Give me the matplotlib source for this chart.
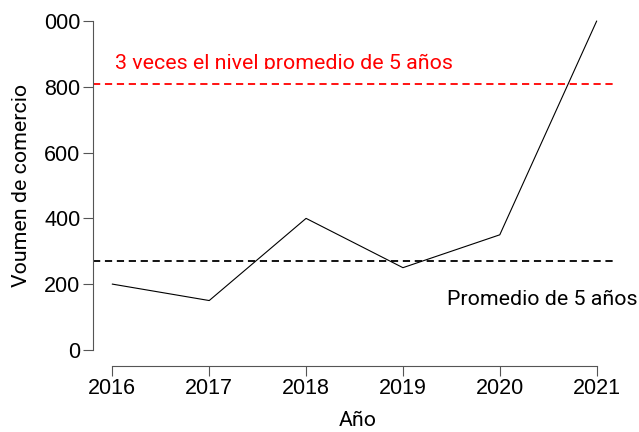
import matplotlib.pyplot as plt
from matplotlib.patches import Rectangle

years = [2016, 2017, 2018, 2019, 2020, 2021]
volume = [200, 150, 400, 250, 350, 1000]
avg5 = sum(volume[:5]) / 5
yticks = [0, 200, 400, 600, 800, 1000]
ytick_labels = ["0", "200", "400", "600", "800", "000"]

plt.rcParams["font.family"] = ["Roboto", "DejaVu Sans"]

fig = plt.figure(figsize=(6.39, 4.32), dpi=100)
ax = fig.add_axes([93 / 639, (432 - 363) / 432, (616 - 93) / 639, (363 - 8) / 432])
ax.set_xlim(2016 - 0.2, 2021 + 0.2)
ax.set_ylim(-40, 1040)

ax.plot(years, volume, color="black", lw=0.8)
ax.axhline(avg5, color="black", ls=(0, (4, 2.6)), lw=1.3)
ax.axhline(3 * avg5, color="red", ls=(0, (4, 2.6)), lw=1.3)

ax.text(2016.03, 854, "3 veces el nivel promedio de 5 años", color="red",
        fontsize=15.4, va="baseline", ha="left")
ax.add_patch(Rectangle((2016.0, 826), 3.6, 28, color="white", zorder=3, lw=0))
ax.text(2021.42, 152, "Promedio de 5 años", color="black", fontsize=15.4,
        va="center", ha="right", clip_on=False)

for s in ["top", "right"]:
    ax.spines[s].set_visible(False)
ax.spines["left"].set_bounds(0, 1000)
ax.spines["bottom"].set_bounds(2016, 2021)
ax.spines["bottom"].set_position(("outward", 2))
for s in ["left", "bottom"]:
    ax.spines[s].set_color("#555555")
ax.set_yticks(yticks, labels=ytick_labels, fontfamily="Liberation Sans")
ax.set_xticks(years, labels=[str(y) for y in years], fontfamily="Liberation Sans")
ax.tick_params(length=7, color="#555555", labelsize=15.5, pad=2)

fig.text(22 / 639, 1 - 185 / 432, "Voumen de comercio", fontsize=15.4,
         rotation=90, ha="center", va="center")
fig.text(358 / 639, 1 - 420 / 432, "Año", fontsize=15.4, ha="center", va="center")

fig.savefig("out.png", dpi=100)
